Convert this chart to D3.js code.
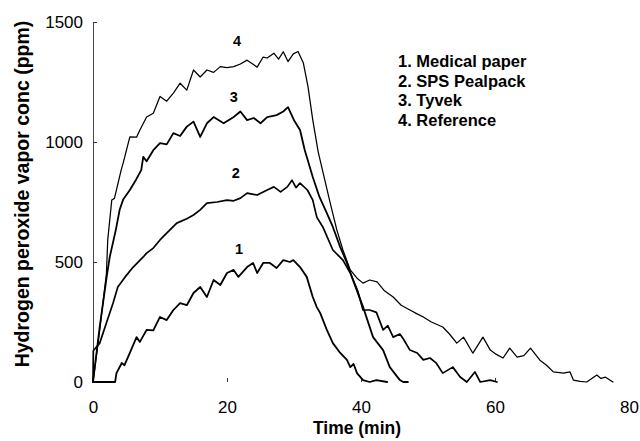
<!DOCTYPE html>
<html>
<head>
<meta charset="utf-8">
<script src="https://cdn.jsdelivr.net/npm/d3@7"></script>
<style>
  html, body { margin: 0; padding: 0; background: #fff; }
  svg { display: block; }
  text { font-family: "Liberation Sans", Arial, Helvetica, sans-serif; fill: #000; }
</style>
</head>
<body>
<svg id="chart" width="640" height="441"></svg>
<script>
// ---- Data ----
const seriesNames = ["1. Medical paper", "2. SPS Pealpack", "3. Tyvek", "4. Reference"];
const seriesLabels = ["1", "2", "3", "4"];

const t1 = [0,3.3,3.5,4.3,4.7,5.5,6.5,7,8,9,10,11,12,13,14,15,16,17,18,19,20,21,21.7,23,23.9,24.5,25.4,26.4,27.4,28.4,29.4,29.9,30.9,31.9,32.8,33.4,33.9,34.9,35.8,36.9,37.9,38.4,38.9,39.4,40.3,41.3,42.3,43.9];
const v1 = [0,0,37,79,70,121,187,167,217,215,271,258,300,329,320,371,396,354,425,404,454,467,438,479,496,454,496,496,475,508,500,508,479,438,354,312,288,217,162,121,92,62,75,37,8,0,8,0];

const t2 = [0,0.05,1,2,3,3.7,4.8,6,7.5,8,9,10,11,12.5,14,15,16,17,18.5,20,21,22,23,24.5,26,27,28,29,29.7,30.3,30.9,32,32.8,33.4,34.3,35.8,37.3,38.4,39.5,40.3,41.3,42.3,43.3,44,44.8,45.8,46.3,47.3,48.4,49.3,50.3,51.2,52.2,53.7,54.8,55.8,57,57.8,59.3,60.3];
const v2 = [0,130,162,246,329,396,438,479,521,537,558,592,620,662,680,696,717,745,750,758,755,766,787,779,800,813,792,813,841,810,829,800,758,687,646,550,508,454,380,300,300,290,217,235,187,200,180,133,121,92,100,80,37,62,21,0,42,0,8,0];

const t3 = [0,1,2,2.5,3.4,4,4.5,5.5,6.4,7.2,7.5,8,9,10,11,12,13,14,15,16,17,18,19.5,21,22,23,24,25,26,27.4,28.4,29.1,30,30.9,31.6,32.8,33.8,34.9,35.8,36.9,37.9,38.8,40.3,41.8,43.3,44.3,45.8,46.3,47];
const v3 = [0,230,430,521,633,720,760,800,842,883,938,920,966,995,990,1037,1025,1064,1085,1021,1078,1104,1078,1104,1127,1091,1100,1078,1104,1112,1127,1145,1091,1050,967,854,771,704,646,562,496,425,313,187,133,62,8,0,0];

const t4 = [0,1,2,2.2,2.8,3.2,4.2,4.5,5.5,6.5,7,8,9,10,11,12,13,14,15,16,17,18,19,20,21,22,23,24.5,25.4,26,27,27.7,28.4,29.1,29.9,30.6,31.4,32.1,32.8,33.6,35.4,36.4,37.3,38.4,39.5,40.3,41.3,42.4,43.5,44.8,46,47.3,48.3,49.3,50.5,52.2,53.2,54.3,55.3,56.7,58.2,59.3,60.2,61.2,62.2,63.3,64.3,65.3,66.7,67.7,68.7,70.2,71.2,71.7,72.7,73.7,75.2,75.8,76.5,77.6];
const v4 = [0,217,450,592,758,765,883,912,1021,1020,1050,1104,1120,1190,1170,1204,1245,1216,1300,1271,1300,1290,1314,1310,1314,1325,1341,1312,1354,1350,1370,1345,1376,1335,1367,1377,1329,1229,1092,960,746,633,550,467,430,412,425,417,380,354,320,300,285,271,250,229,200,162,187,120,187,133,115,100,141,104,110,141,91,70,42,37,42,8,3,0,29,15,20,0];

// label anchor points (time, value) for the curve numbers
const labelT = [21.8, 21.3, 21, 21.5];
const labelV = [532, 850, 1165, 1400];

const xTicks = [0, 20, 40, 60, 80];
const yTicks = [0, 500, 1000, 1500];

// ---- Chart ----
const svg = d3.select("#chart");
const x = d3.scaleLinear().domain([0, 80]).range([93, 629]);
const y = d3.scaleLinear().domain([0, 1500]).range([382, 22]);

const zip = (ts, vs) => ts.map((t, i) => [t, vs[i]]);
const series = [zip(t1, v1), zip(t2, v2), zip(t3, v3), zip(t4, v4)];
const widths = [1.8, 1.7, 1.8, 1.25];

// axes
const yAxis = d3.axisLeft(y).tickValues(yTicks).tickFormat(d3.format("d"))
  .tickSizeInner(-4).tickSizeOuter(0).tickPadding(10);
const gy = svg.append("g").attr("transform", `translate(${x(0)},0)`).call(yAxis);
gy.select(".domain").attr("stroke", "#333").attr("stroke-width", 0.9);
gy.selectAll(".tick line").attr("stroke", "#333");
gy.selectAll(".tick text").attr("font-size", 17).attr("font-family", "Liberation Sans, Arial, sans-serif");

const xAxis = d3.axisBottom(x).tickValues(xTicks).tickFormat(d3.format("d"))
  .tickSizeInner(-4).tickSizeOuter(0).tickPadding(19);
const gx = svg.append("g").attr("transform", `translate(0,${y(0)})`).call(xAxis);
gx.select(".domain").remove();
gx.selectAll(".tick line").attr("stroke", "#333").filter(d => d === 0 || d === 80).remove();
gx.selectAll(".tick text").attr("font-size", 17).attr("font-family", "Liberation Sans, Arial, sans-serif");

// lines
const line = d3.line().x(d => x(d[0])).y(d => y(d[1])).curve(d3.curveLinear);
svg.append("g").selectAll("path").data(series).join("path")
  .attr("d", line)
  .attr("fill", "none")
  .attr("stroke", "#000")
  .attr("stroke-width", (d, i) => widths[i])
  .attr("stroke-linejoin", "round")
  .attr("stroke-linecap", "round");

// curve number labels
svg.append("g").selectAll("text").data(seriesLabels).join("text")
  .attr("x", (d, i) => x(labelT[i]))
  .attr("y", (d, i) => y(labelV[i]))
  .attr("text-anchor", "middle")
  .attr("font-size", 14.5)
  .attr("font-weight", "bold")
  .text(d => d);

// legend text
svg.append("g").selectAll("text").data(seriesNames).join("text")
  .attr("x", 398)
  .attr("y", (d, i) => 67 + i * 19.7)
  .attr("font-size", 16.5)
  .attr("font-weight", "bold")
  .text(d => d);

// axis titles
svg.append("text")
  .attr("x", 357).attr("y", 434)
  .attr("text-anchor", "middle")
  .attr("font-size", 17.5)
  .attr("font-weight", "bold")
  .text("Time (min)");

svg.append("text")
  .attr("transform", "translate(29,194) rotate(-90)")
  .attr("text-anchor", "middle")
  .attr("font-size", 19.5)
  .attr("font-weight", "bold")
  .text("Hydrogen peroxide vapor conc (ppm)");
</script>
</body>
</html>
